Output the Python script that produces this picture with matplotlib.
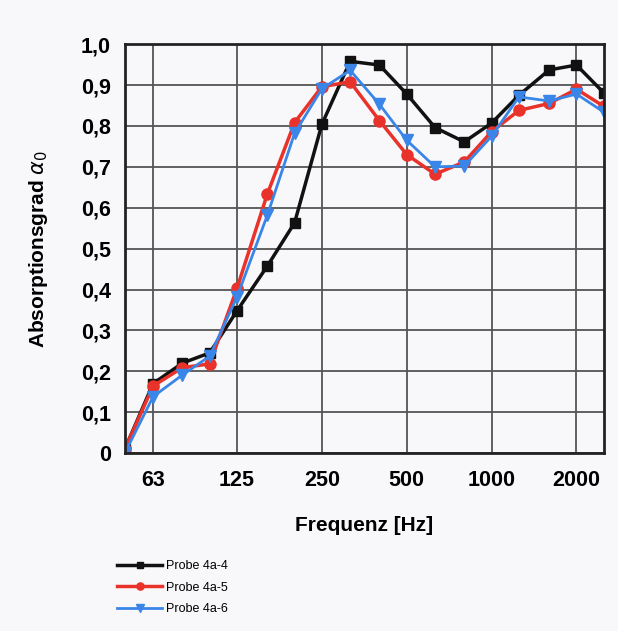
import numpy as np
import matplotlib.pyplot as plt
from matplotlib.ticker import FixedLocator, NullLocator

# third-octave band centre frequencies [Hz]
freq = [50, 63, 80, 100, 125, 160, 200, 250, 315, 400, 500, 630,
        800, 1000, 1250, 1600, 2000, 2500]

probe_4 = [0.01, 0.17, 0.22, 0.245, 0.348, 0.457, 0.563, 0.804, 0.958, 0.949,
           0.878, 0.796, 0.761, 0.807, 0.875, 0.937, 0.949, 0.881]
probe_5 = [0.01, 0.164, 0.209, 0.218, 0.403, 0.633, 0.808, 0.896, 0.908, 0.813,
           0.730, 0.682, 0.712, 0.786, 0.838, 0.855, 0.890, 0.848]
probe_6 = [0.0, 0.138, 0.191, 0.237, 0.382, 0.581, 0.782, 0.891, 0.936, 0.853,
           0.765, 0.700, 0.702, 0.775, 0.871, 0.861, 0.878, 0.834]

xticks = [63, 125, 250, 500, 1000, 2000]
yticks = np.arange(0, 1.01, 0.1)

bg = '#f8f8fb'
fig = plt.figure(figsize=(6.18, 6.31), dpi=100, facecolor=bg)
ax = fig.add_axes([0.202, 0.282, 0.775, 0.648], facecolor=bg)

ax.plot(freq, probe_4, color='#111111', lw=2.5, marker='s', ms=7, label='Probe 4a-4')
ax.plot(freq, probe_5, color='#e8322a', lw=2.5, marker='o', ms=8, label='Probe 4a-5')
ax.plot(freq, probe_6, color='#3a86e8', lw=2.0, marker='v', ms=8, label='Probe 4a-6')

ax.set_xscale('log')
ax.set_xlim(50, 2500)
ax.set_ylim(0, 1.0)
ax.xaxis.set_major_locator(FixedLocator(xticks))
ax.xaxis.set_minor_locator(NullLocator())
ax.set_xticklabels([str(t) for t in xticks])
ax.set_yticks(yticks)
ax.set_yticklabels(['0' if v == 0 else f'{v:.1f}'.replace('.', ',') for v in yticks])
ax.tick_params(axis='x', length=0, pad=12, labelsize=15.5)
ax.tick_params(axis='y', length=0, pad=10, labelsize=15.5)
for lab in ax.get_xticklabels() + ax.get_yticklabels():
    lab.set_fontweight('bold')
    lab.set_fontfamily('Liberation Sans')

ax.grid(True, color='#555555', lw=1.3)
ax.set_axisbelow(True)
for s in ax.spines.values():
    s.set_linewidth(2)
    s.set_color('#222222')

ax.set_xlabel('Frequenz [Hz]', fontsize=15, fontweight='bold',
              fontfamily='Liberation Sans', labelpad=18)
ax.set_ylabel(r'Absorptionsgrad $\alpha_0$', fontsize=15, fontweight='bold',
              fontfamily='Liberation Sans', labelpad=22)

leg = fig.legend(loc='upper left', bbox_to_anchor=(0.19, 0.112),
                 frameon=False, handlelength=3.6, labelspacing=0.75,
                 handletextpad=0.25, borderaxespad=0, borderpad=0,
                 markerscale=0.65,
                 prop={'family': 'Liberation Sans', 'size': 9})

fig.savefig('out.png', dpi=100, facecolor=bg)
